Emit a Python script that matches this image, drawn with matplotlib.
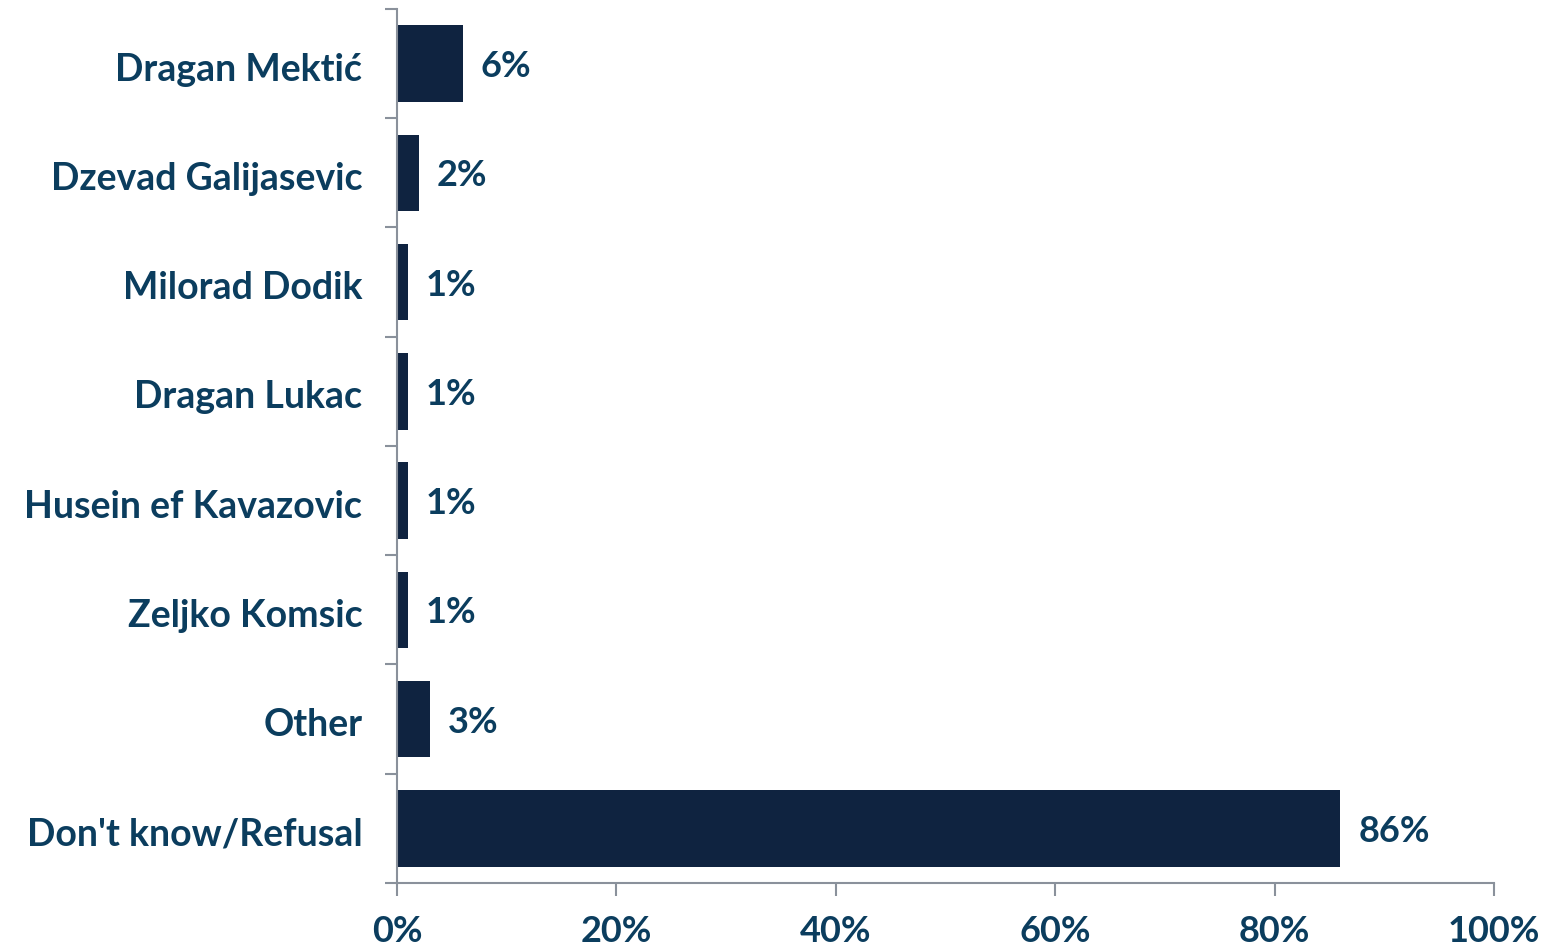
import matplotlib
matplotlib.use("Agg")
import matplotlib.pyplot as plt
import matplotlib.transforms as mtrans
from matplotlib.ticker import FuncFormatter

categories = ["Dragan Mektić", "Dzevad Galijasevic", "Milorad Dodik", "Dragan Lukac",
              "Husein ef Kavazovic", "Zeljko Komsic", "Other", "Don't know/Refusal"]
values = [6, 2, 1, 1, 1, 1, 3, 86]
xticks = [0, 20, 40, 60, 80, 100]

W, H = 1555, 947
fig = plt.figure(figsize=(W/100, H/100), dpi=100)
ax = fig.add_axes([397/W, 1-883/H, (1494-397)/W, (883-9)/H])

txt = "#0b3d5e"
bar_c = "#0f2340"
spine_c = "#8a919b"
font = "Lato"

n = len(categories)
ypos = list(range(n))
ax.barh(ypos, values, height=0.7, color=bar_c)
ax.set_ylim(n-0.5, -0.5)
ax.set_xlim(0, 100)

for y, v in zip(ypos, values):
    ax.annotate(f"{v}%", (v, y), xytext=(18, -3), textcoords="offset pixels",
                va="center", ha="left", fontsize=26, fontweight="bold", color=txt, family=font)

ax.set_yticks(ypos)
ax.set_yticklabels(categories, fontsize=27, fontweight="bold", color=txt, family=font)
ax.set_yticks([i - 0.5 for i in range(n+1)], minor=True)
ax.tick_params(axis="y", which="major", length=0, pad=25)
ax.tick_params(axis="y", which="minor", length=9, width=1.5, color=spine_c, direction="out")
off = mtrans.ScaledTranslation(0, -3/100, fig.dpi_scale_trans)
for lab in ax.get_yticklabels():
    lab.set_transform(lab.get_transform() + off)

ax.set_xticks(xticks)
ax.xaxis.set_major_formatter(FuncFormatter(lambda x, p: f"{int(x)}%"))
for lab in ax.get_xticklabels():
    lab.set_fontsize(26); lab.set_fontweight("bold"); lab.set_color(txt); lab.set_family(font)
ax.tick_params(axis="x", length=9, width=1.5, color=spine_c, direction="out", pad=14)

for s in ["top", "right"]:
    ax.spines[s].set_visible(False)
for s in ["left", "bottom"]:
    ax.spines[s].set_color(spine_c)
    ax.spines[s].set_linewidth(1.5)

fig.savefig("out.png", dpi=100)
